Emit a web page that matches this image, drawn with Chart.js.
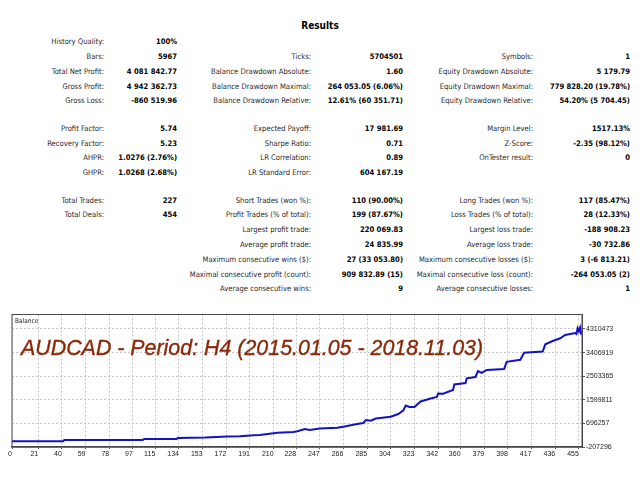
<!DOCTYPE html>
<html>
<head>
<meta charset="utf-8">
<script src="https://cdn.jsdelivr.net/npm/chart.js@4.4.0/dist/chart.umd.min.js"></script>
<style>
body { margin: 0; width: 640px; height: 480px; background: #fff; overflow: hidden; position: relative;
       font-family: "DejaVu Sans Condensed", "DejaVu Sans", sans-serif; }
.t { position: absolute; white-space: nowrap; line-height: 10px; font-size: 7.6px; text-align: right; }
.l { color: #2a2a2a; }
.v { color: #000; font-weight: bold; }
#results { position: absolute; left: 0; width: 640px; top: 21px; line-height: 10px; text-align: center; font-weight: bold; font-size: 10px; }
#wrap { position: absolute; left: 0; top: 300px; width: 640px; height: 170px; }
#sym { position: absolute; left: 21px; top: 335.5px; line-height: 21px; font: italic 21.4px "Liberation Sans", Arial, sans-serif;
       color: #8a2808; white-space: nowrap; -webkit-text-stroke: 0.35px #8a2808; }
#bal { position: absolute; left: 15px; top: 316px; line-height: 10px; font-size: 6.5px; color: #222; }
</style>
</head>
<body>
<div id="results">Results</div>
<div id="table"></div>
<div id="wrap"><canvas id="balanceChart" width="640" height="170"></canvas></div>
<div id="bal">Balance</div>
<div id="sym">AUDCAD - Period: H4 (2015.01.05 - 2018.11.03)</div>
<script>
// balance curve (trade number / balance)
var tradeNo = [0, 41, 42, 105, 106, 132, 133, 155, 173, 183, 194, 199, 213, 226, 229, 235, 239, 247,
    261, 266, 277, 282, 284, 288, 292, 304, 310, 314, 316, 319, 323, 328, 336, 341, 342, 346,
    354, 355, 364, 365, 372, 374, 377, 381, 395, 397, 408, 411, 426, 428, 434, 440, 444,
    452, 453, 454, 455, 456, 457];
var balance = [10000, 10000, 60700, 60700, 99000, 99000, 137000, 156000, 190900, 202000, 240600, 252000,
    336400, 367000, 393800, 481900, 443600, 501000, 527800, 570000, 673300, 711600, 826400, 799600,
    883900, 952800, 1056100, 1190100, 1381600, 1324100, 1324100, 1534700, 1649600, 1707000, 1841000,
    1829500, 1975000, 2185600, 2243000, 2423000, 2472700, 2702400, 2633600, 2740700, 2779000, 3054700,
    3131300, 3403100, 3449000, 3724700, 3851000, 3954500, 4080700, 4157300, 4119000, 4337000, 4215000,
    4368000, 4092000];

var xTicks = [0, 21, 40, 59, 78, 97, 115, 134, 153, 172, 191, 210, 228, 247, 266, 285, 304, 323, 342,
    360, 379, 398, 417, 436, 455];
var yTicks = [-207296, 696257, 1599811, 2503365, 3406919, 4310473];

// report table: [label, value] for the three columns
var col1 = [
    ['History Quality:', '100%'], ['Bars:', '5967'], ['Total Net Profit:', '4 081 842.77'],
    ['Gross Profit:', '4 942 362.73'], ['Gross Loss:', '-860 519.96'],
    ['Profit Factor:', '5.74'], ['Recovery Factor:', '5.23'], ['AHPR:', '1.0276 (2.76%)'],
    ['GHPR:', '1.0268 (2.68%)'], ['Total Trades:', '227'], ['Total Deals:', '454'],
    null, null, null, null, null
];
var col2 = [
    null, ['Ticks:', '5704501'], ['Balance Drawdown Absolute:', '1.60'],
    ['Balance Drawdown Maximal:', '264 053.05 (6.06%)'], ['Balance Drawdown Relative:', '12.61% (60 351.71)'],
    ['Expected Payoff:', '17 981.69'], ['Sharpe Ratio:', '0.71'], ['LR Correlation:', '0.89'],
    ['LR Standard Error:', '604 167.19'], ['Short Trades (won %):', '110 (90.00%)'],
    ['Profit Trades (% of total):', '199 (87.67%)'], ['Largest profit trade:', '220 069.83'],
    ['Average profit trade:', '24 835.99'], ['Maximum consecutive wins ($):', '27 (33 053.80)'],
    ['Maximal consecutive profit (count):', '909 832.89 (15)'], ['Average consecutive wins:', '9']
];
var col3 = [
    null, ['Symbols:', '1'], ['Equity Drawdown Absolute:', '5 179.79'],
    ['Equity Drawdown Maximal:', '779 828.20 (19.78%)'], ['Equity Drawdown Relative:', '54.20% (5 704.45)'],
    ['Margin Level:', '1517.13%'], ['Z-Score:', '-2.35 (98.12%)'], ['OnTester result:', '0'],
    null, ['Long Trades (won %):', '117 (85.47%)'], ['Loss Trades (% of total):', '28 (12.33%)'],
    ['Largest loss trade:', '-188 908.23'], ['Average loss trade:', '-30 732.86'],
    ['Maximum consecutive losses ($):', '3 (-6 813.21)'], ['Maximal consecutive loss (count):', '-264 053.05 (2)'],
    ['Average consecutive losses:', '1']
];

var rowY = [42.3, 57.3, 71.7, 86.7, 101, 128.7, 143.7, 158.3, 173, 200.7, 215, 230, 244.7, 260, 274.7, 289];
var cols = [
    { rows: col1, labelRight: 104, valueRight: 177 },
    { rows: col2, labelRight: 311, valueRight: 403 },
    { rows: col3, labelRight: 533, valueRight: 630 }
];

var table = document.getElementById('table');
function addText(cls, text, right, cy) {
    var d = document.createElement('div');
    d.className = 't ' + cls;
    d.textContent = text;
    d.style.right = (640 - right) + 'px';
    d.style.top = (cy - 5) + 'px';
    table.appendChild(d);
}
cols.forEach(function(c) {
    c.rows.forEach(function(r, i) {
        if (!r) return;
        addText('l', r[0], c.labelRight, rowY[i]);
        addText('v', r[1], c.valueRight, rowY[i]);
    });
});

var framePlugin = {
    id: 'frame',
    afterDraw: function(chart) {
        var a = chart.chartArea, ctx = chart.ctx;
        ctx.save();
        ctx.strokeStyle = '#4a4a4a';
        ctx.lineWidth = 1;
        ctx.strokeRect(a.left, a.top, a.right - a.left, a.bottom - a.top);
        ctx.restore();
    }
};

var tickFont = { family: 'Liberation Sans', size: 7 };

new Chart(document.getElementById('balanceChart'), {
    type: 'line',
    data: {
        datasets: [{
            label: 'Balance',
            data: tradeNo.map(function(x, i) { return { x: x, y: balance[i] }; }),
            borderColor: '#1212c4',
            borderWidth: 2,
            pointRadius: 0,
            tension: 0,
            fill: false
        }]
    },
    options: {
        responsive: false,
        animation: false,
        layout: { padding: { left: 12, top: 14.5, right: 0, bottom: 0 } },
        plugins: { legend: { display: false }, tooltip: { enabled: false } },
        scales: {
            x: {
                type: 'linear',
                min: 0,
                max: 457.5,
                afterBuildTicks: function(s) { s.ticks = xTicks.map(function(v) { return { value: v }; }); },
                afterFit: function(s) { s.height = 23; },
                ticks: {
                    autoSkip: false, maxRotation: 0, align: 'end', padding: 1,
                    font: tickFont, color: '#222',
                    callback: function(v) { return String(v); }
                },
                grid: { color: '#c4c4c4', tickLength: 2, tickColor: '#555' },
                border: { color: '#444', width: 1.5, dash: [2, 2] }
            },
            y: {
                position: 'right',
                min: -207296,
                max: 4865620,
                afterBuildTicks: function(s) { s.ticks = yTicks.map(function(v) { return { value: v }; }); },
                afterFit: function(s) { s.width = 58; },
                ticks: {
                    padding: 1, font: tickFont, color: '#222',
                    callback: function(v) { return String(v); }
                },
                grid: { color: '#c4c4c4', tickLength: 3, tickColor: '#555' },
                border: { color: '#444', width: 1, dash: [2, 2] }
            }
        }
    },
    plugins: [framePlugin]
});
</script>
</body>
</html>
